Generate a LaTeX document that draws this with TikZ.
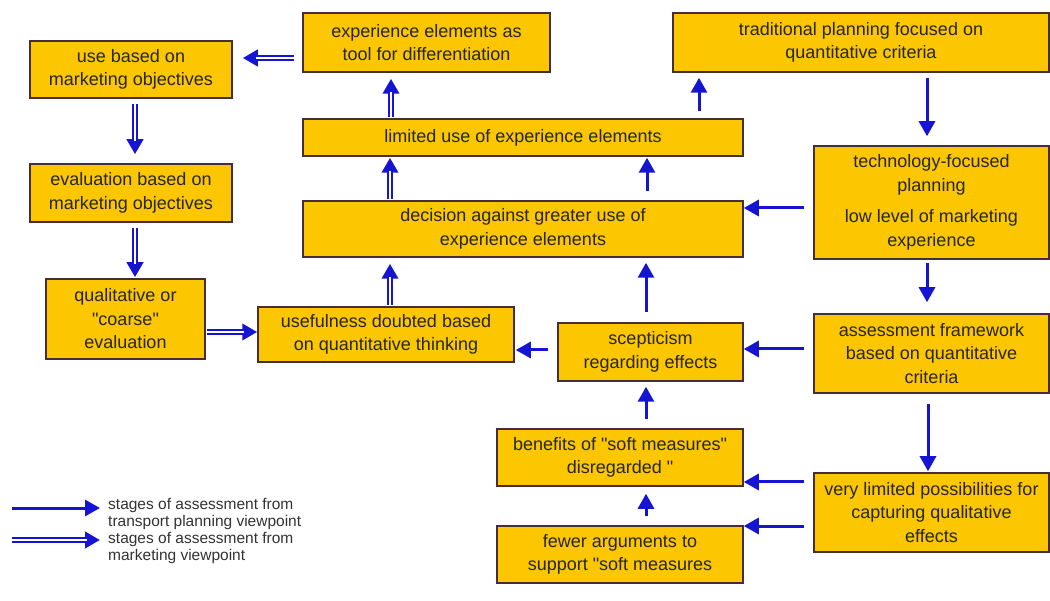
\documentclass[tikz,border=0pt]{standalone}
\usepackage{fontspec}
\setmainfont{Liberation Sans}[Ligatures=TeXOff]
\usetikzlibrary{arrows.meta}
\definecolor{boxfill}{RGB}{252,198,0}
\definecolor{boxline}{RGB}{70,45,60}
\definecolor{arrblue}{RGB}{20,20,210}
\newcommand{\sq}{"}
\tikzset{
 box/.style={draw=boxline, line width=1.5pt, fill=boxfill, text=black!85, align=center, inner sep=0pt, font=\fontsize{18}{23.5}\selectfont},
 sa/.style={draw=arrblue, line width=3pt, -{Triangle[length=15pt,width=16pt]}},
 daout/.style={draw=arrblue, line width=6.4pt, -{Triangle[length=15pt,width=16pt]}},
 dain/.style={draw=white, line width=2.4pt},
 legtext/.style={anchor=west, align=left, inner sep=0pt, text=black!80, font=\fontsize{15.5}{17}\selectfont},
}
% double arrow: #1 start, #2 end, #3 shorten at start, #4 shorten at end
\newcommand{\dblarrow}[4]{%
 \draw[daout, shorten <=#3, shorten >=#4] #1 -- #2;
 \draw[dain, shorten <=#3, shorten >=#4+13pt] #1 -- #2;}
\begin{document}
\begin{tikzpicture}[x=1pt,y=-1pt]
\useasboundingbox[fill=white] (0,0) rectangle (1050,601);
% boxes
\node[box, minimum width=202pt, minimum height=57pt] (useMkt) at (131,69.5) {use based on\\marketing objectives};
\node[box, minimum width=202pt, minimum height=58pt] (evalMkt) at (131,193) {evaluation based on\\marketing objectives};
\node[box, minimum width=159pt, minimum height=80pt] (qual) at (125.5,319) {qualitative or\\\sq coarse\sq\\evaluation};
\node[box, minimum width=256pt, minimum height=55pt] (useful) at (386,334.5) {usefulness doubted based\\on quantitative thinking};
\node[box, minimum width=247pt, minimum height=59pt] (expTool) at (426.5,42.5) {experience elements as\\tool for differentiation};
\node[box, minimum width=440pt, minimum height=37pt] (limited) at (523,137.5) {limited use of experience elements};
\node[box, minimum width=440pt, minimum height=56pt] (decision) at (523,229) {decision against greater use of\\experience elements};
\node[box, minimum width=376pt, minimum height=59pt] (trad) at (861,42.5) {traditional planning focused on\\quantitative criteria};
\node[box, minimum width=235pt, minimum height=113pt] (tech) at (931.5,202.5) {technology-focused\\planning\\[8pt]low level of marketing\\experience};
\node[box, minimum width=235pt, minimum height=79pt] (assess) at (931.5,353.5) {assessment framework\\based on quantitative\\criteria};
\node[box, minimum width=185pt, minimum height=58pt] (scept) at (650.5,352) {scepticism\\regarding effects};
\node[box, minimum width=246pt, minimum height=57pt] (benefits) at (620,457.5) {benefits of \sq soft measures\sq\\disregarded \sq};
\node[box, minimum width=246pt, minimum height=57pt] (fewer) at (620,554.5) {fewer arguments to\\support \sq soft measures};
\node[box, minimum width=235pt, minimum height=79pt] (verylim) at (931.5,512.5) {very limited possibilities for\\capturing qualitative\\effects};
% single arrows (transport planning viewpoint)
\draw[sa, shorten <=5pt, shorten >=9pt] (trad.south -| 927,0) -- (tech.north -| 927,0);
\draw[sa, shorten <=3pt, shorten >=11pt] (tech.south -| 927,0) -- (assess.north -| 927,0);
\draw[sa, shorten <=10pt, shorten >=1pt] (assess.south -| 928,0) -- (verylim.north -| 928,0);
\draw[sa, shorten <=9pt] (tech.west |- 0,208) -- (decision.east |- 0,208);
\draw[sa, shorten <=9pt] (assess.west |- 0,349) -- (scept.east |- 0,349);
\draw[sa, shorten <=9pt] (verylim.west |- 0,482) -- (benefits.east |- 0,482);
\draw[sa, shorten <=9pt] (verylim.west |- 0,526) -- (fewer.east |- 0,526);
\draw[sa, shorten <=9pt, shorten >=1pt] (scept.west |- 0,350) -- (useful.east |- 0,350);
\draw[sa, shorten <=9pt, shorten >=5pt] (benefits.north -| 646,0) -- (scept.south -| 646,0);
\draw[sa, shorten <=9pt, shorten >=7pt] (fewer.north -| 646,0) -- (benefits.south -| 646,0);
\draw[sa, shorten <=10pt, shorten >=5pt] (scept.north -| 646,0) -- (decision.south -| 646,0);
\draw[sa, shorten <=9pt, shorten >=1pt] (decision.north -| 647,0) -- (limited.south -| 647,0);
\draw[sa, shorten <=7pt, shorten >=5pt] (limited.north -| 699,0) -- (trad.south -| 699,0);
% double arrows (marketing viewpoint)
\dblarrow{(expTool.west |- 0,58)}{(useMkt.east |- 0,58)}{8pt}{10pt}
\dblarrow{(useMkt.south -| 135,0)}{(evalMkt.north -| 135,0)}{5pt}{9pt}
\dblarrow{(evalMkt.south -| 135,0)}{(qual.north -| 135,0)}{5pt}{1pt}
\dblarrow{(qual.east |- 0,332)}{(useful.west |- 0,332)}{1pt}{0pt}
\dblarrow{(useful.north -| 390,0)}{(decision.south -| 390,0)}{1pt}{6pt}
\dblarrow{(decision.north -| 390,0)}{(limited.south -| 390,0)}{1pt}{1pt}
\dblarrow{(limited.north -| 391,0)}{(expTool.south -| 391,0)}{1pt}{6pt}
% legend
\coordinate (l1s) at (12,508);
\coordinate (l1e) at (100,508);
\coordinate (l2s) at (12,540);
\coordinate (l2e) at (100,540);
\draw[sa] (l1s) -- (l1e);
\dblarrow{(l2s)}{(l2e)}{0pt}{0pt}
\node[legtext] (l1t) at (108,513.5) {stages of assessment from\\transport planning viewpoint};
\node[legtext] (l2t) at (108,548) {stages of assessment from\\marketing viewpoint};
\end{tikzpicture}
\end{document}
